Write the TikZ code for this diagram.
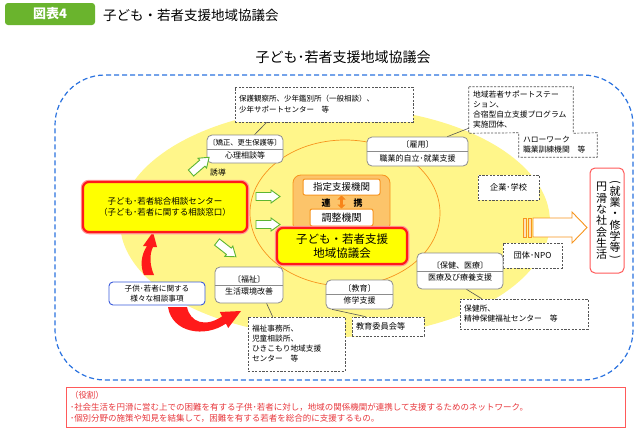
\documentclass[tikz,border=0pt]{standalone}
\usepackage{fontspec}
\setmainfont{Noto Sans CJK JP}
\usetikzlibrary{arrows.meta,calc}
\newcommand\fsz[2]{\fontsize{#1}{#2}\selectfont}
\newcommand\vparen[1]{\rotatebox[origin=c]{-90}{#1}}
\definecolor{ygreen}{HTML}{6AB42D}
\definecolor{bluedash}{HTML}{2A72E0}
\definecolor{yell}{HTML}{FFF68A}
\definecolor{orng}{HTML}{F7941D}
\definecolor{lorng}{HTML}{FCC46A}
\definecolor{redb}{HTML}{FF1A1A}
\definecolor{pinkb}{HTML}{FF5A5A}
\definecolor{grayb}{HTML}{8C8C8C}
\definecolor{dgray}{HTML}{555555}
\definecolor{garrow}{HTML}{5DB532}
\definecolor{rtext}{HTML}{E8383D}
\definecolor{mainy}{HTML}{FFFF00}
\definecolor{blueb}{HTML}{3B5BDB}
\tikzset{
  dline/.style={draw=dgray, dash pattern=on 2.2pt off 1.4pt, line width=0.7pt},
  dbox/.style={dline, fill=white, inner xsep=4pt, inner ysep=0pt, align=left},
  cbox/.style={draw=grayb, line width=0.8pt, fill=white, rounded corners=5pt, align=center, inner sep=0pt, font=\fsz{8}{12}},
  sepline/.style={draw=grayb, line width=0.6pt},
  conn/.style={draw=dgray, line width=0.6pt},
  mainbox/.style={fill=mainy, draw=redb, line width=2.2pt, rounded corners=6pt, align=center, inner sep=0pt, preaction={draw=red!40, line width=4.5pt}},
  wbox/.style={fill=white, draw=orng, line width=1pt, rounded corners=2pt, inner sep=0pt},
  garr/.pic={\draw[garrow, line width=0.9pt, fill=white, line join=miter] (0,-4) -- (15,-4) -- (15,-6.5) -- (24,0) -- (15,6.5) -- (15,4) -- (0,4) -- cycle;},
}
\begin{document}
\begin{tikzpicture}[x=1pt,y=-1pt]
\useasboundingbox (0,0) rectangle (638,431);
\fill[white] (0,0) rectangle (638,431);
% header
\node[fill=ygreen, rounded corners=3pt, minimum width=90pt, minimum height=22pt, inner sep=0, text=white, font=\fsz{13}{13}\bfseries] (zuhyo) at (50,14) {図表4};
\node[anchor=west, inner sep=0, font=\fsz{13.5}{13.5}] (htitle) at (103,15) {子ども・若者支援地域協議会};
\node[inner sep=0, font=\fsz{14}{14}] (title) at (343,57) {子ども･若者支援地域協議会};
% frame and ellipses
\node[draw=bluedash, line width=1.2pt, dash pattern=on 5pt off 3pt, rounded corners=50pt, minimum width=578pt, minimum height=305pt, inner sep=0] (frame) at (344,227.5) {};
\fill[yell] (335,222) ellipse [x radius=215, y radius=115];
\draw[orng, line width=0.7pt] (345,213) ellipse [x radius=95, y radius=73];
% red curved arrows
\fill[redb] (144,275) .. controls (140,266) and (141,255) .. (147,246) -- (143,246) -- (153,232) -- (157,247) -- (153,247) .. controls (149,255) and (150,266) .. (154,275) -- cycle;
\fill[redb] (168,307) .. controls (172,333) and (205,338) .. (225.9,323.6) -- (228.2,328) -- (241,311) -- (219.8,312) -- (222.1,316.4) .. controls (205,328) and (190,322) .. (187,307) -- cycle;
% dashed boxes
\node[dbox, minimum width=178pt, minimum height=35pt, text width=170pt, font=\fsz{7.5}{11}] (hogo) at (324,104.5) {保護観察所、少年鑑別所（一般相談）、\\少年サポートセンター　等};
\node[inner xsep=4pt, inner ysep=0pt, align=left, minimum width=104pt, minimum height=46pt, text width=96pt, font=\fsz{7.8}{10}] (wakaA) at (521,110) {地域若者サポートステー\\ション、\\合宿型自立支援プログラム\\実施団体、};
\node[inner xsep=4pt, inner ysep=0pt, align=left, minimum width=78pt, minimum height=24pt, text width=70pt, font=\fsz{7.8}{10}] (wakaB) at (558,145) {ハローワーク\\職業訓練機関　等};
\draw[dline] (wakaA.north west) -- (wakaA.north east) -- (wakaA.south east) -- (wakaB.north east) -- (wakaB.south east) -- (wakaB.south west) -- (wakaB.north west) -- (wakaA.south west) -- cycle;
\node[dbox, minimum width=61pt, minimum height=25pt, align=center, font=\fsz{8.2}{10}] (kigyo) at (508.5,187.5) {企業･学校};
\node[dbox, minimum width=59pt, minimum height=25pt, align=center, font=\fsz{8.2}{10}] (dantai) at (532.5,255.5) {団体･NPO};
\node[dbox, minimum width=128pt, minimum height=30pt, text width=120pt, font=\fsz{7.8}{10}] (hokenjo) at (524,314) {保健所、\\精神保健福祉センター　等};
\node[dbox, minimum width=72pt, minimum height=19pt, text width=64pt, font=\fsz{8.2}{10}] (kyoiin) at (388,326.5) {教育委員会等};
\node[dbox, minimum width=97pt, minimum height=54pt, text width=89pt, font=\fsz{7.7}{10}] (jimu) at (296.5,344) {福祉事務所、\\児童相談所、\\ひきこもり地域支援\\センター　等};
% category boxes
\node[cbox, minimum width=76pt, minimum height=28pt, font=\fsz{8}{13.5}] (kyosei) at (245,149) {{\fsz{7.3}{13.5}〔矯正、更生保護等〕}\\心理相談等};
\draw[sepline] (kyosei.west) -- (kyosei.east);
\node[cbox, minimum width=101pt, minimum height=29pt, font=\fsz{8}{13.5}] (koyo) at (417.5,151.5) {〔雇用〕\\職業的自立･就業支援};
\draw[sepline] (koyo.west) -- (koyo.east);
\node[cbox, minimum width=86pt, minimum height=36pt] (hoken) at (460,271) {〔保健、医療〕\\医療及び療養支援};
\draw[sepline] (hoken.west) -- (hoken.east);
\node[cbox, minimum width=68pt, minimum height=36pt] (fukushi) at (249,285) {〔福祉〕\\生活環境改善};
\draw[sepline] (fukushi.west) -- (fukushi.east);
\node[cbox, minimum width=67pt, minimum height=29pt] (kyoiku) at (359.5,294.5) {〔教育〕\\修学支援};
\draw[sepline] (kyoiku.west) -- (kyoiku.east);
% connectors
\draw[conn] ($(hogo.south west)+(32,0)$) -- ($(kyosei.north west)+(48,0)$);
\draw[conn] ($(koyo.north east)+(-21,0)$) -- ($(wakaA.south west)+(0,-5)$);
\draw[conn] ($(kyoiku.south west)+(6.5,0)$) -- ($(kyoiin.north west)+(14,0)$);
\draw[conn] ($(hoken.south west)+(50,0)$) -- ($(hokenjo.north west)+(22,0)$);
\draw[conn] ($(fukushi.south west)+(52,0)$) -- ($(jimu.north west)+(25,0)$);
% consultation box
\node[draw=blueb, line width=0.9pt, rounded corners=4pt, fill=white, minimum width=96pt, minimum height=23pt, align=center, inner sep=0, font=\fsz{7.6}{10}] (soudan) at (157,293.5) {子供･若者に関する\\様々な相談事項};
% main boxes
\node[mainbox, minimum width=164pt, minimum height=50pt, font=\fsz{8.5}{11.5}] (sogo) at (165,207) {子ども･若者総合相談センター\\（子ども･若者に関する相談窓口）};
\node[fill=lorng, draw=orng, line width=0.8pt, rounded corners=8pt, minimum width=97pt, minimum height=57pt, inner sep=0] (renkei) at (341.5,203.5) {};
\node[wbox, minimum width=77pt, minimum height=16pt, font=\fsz{9.5}{9.5}] (shitei) at (341.5,187) {指定支援機関};
\node[wbox, minimum width=63pt, minimum height=17pt, font=\fsz{10}{10}] (chosei) at (341.5,217.5) {調整機関};
\node[inner sep=0, font=\fsz{9}{9}\bfseries] (ren) at (326,203) {連};
\node[inner sep=0, font=\fsz{9}{9}\bfseries] (kei) at (358,203) {携};
\draw[{Triangle[width=8pt,length=4pt]}-{Triangle[width=8pt,length=4pt]}, draw=orng!90!red, fill=orng!90!red, line width=3pt] (shitei.south) -- (chosei.north);
\node[mainbox, minimum width=130pt, minimum height=36pt, font=\fsz{11.5}{13.5}] (kyogikai) at (342,246) {子ども・若者支援\\地域協議会};
% green arrows
\pic at (256,196.5) {garr};
\pic at (256,224.5) {garr};
\pic[rotate=-38] at (217,242) {garr};
\pic[rotate=41] at (191,173) {garr};
\node[inner sep=0, font=\fsz{7.8}{8}] (yudo) at (218,173) {誘導};
% hollow orange arrow
\draw[orng, fill=orng!30, line width=0.7pt] (523,218) rectangle (526,237);
\draw[orng, fill=orng!30, line width=0.7pt] (528,218) rectangle (531,237);
\draw[orng, fill=white, line width=0.9pt, line join=miter] (533,218) -- (572,218) -- (572,212) -- (587,227.5) -- (572,243) -- (572,237) -- (533,237) -- cycle;
% result box
\node[draw=pinkb, line width=1pt, rounded corners=5pt, fill=white, minimum width=34pt, minimum height=105pt, inner sep=0] (enkatsu) at (607,220.5) {};
\node[inner sep=0, align=center, font=\fsz{11}{11.3}] (enkA) at (601.5,221) {円\\滑\\な\\社\\会\\生\\活};
\node[inner sep=0, align=center, font=\fsz{11}{11.3}] (enkB) at (615,221) {\vparen{(}\\[-2pt]就\\業\\・\\修\\学\\等\\[-2pt]\vparen{)}};
% role box
\node[draw=pinkb, line width=0.8pt, fill=white, text width=551pt, inner xsep=4pt, inner ysep=2pt, minimum height=40pt, align=left, text=rtext, font=\fsz{8.5}{11.2}] (yakuwari) at (345.5,407) {（役割）\\･社会生活を円滑に営む上での困難を有する子供･若者に対し，地域の関係機関が連携して支援するためのネットワーク。\\･個別分野の施策や知見を結集して，困難を有する若者を総合的に支援するもの。};
\end{tikzpicture}
\end{document}
